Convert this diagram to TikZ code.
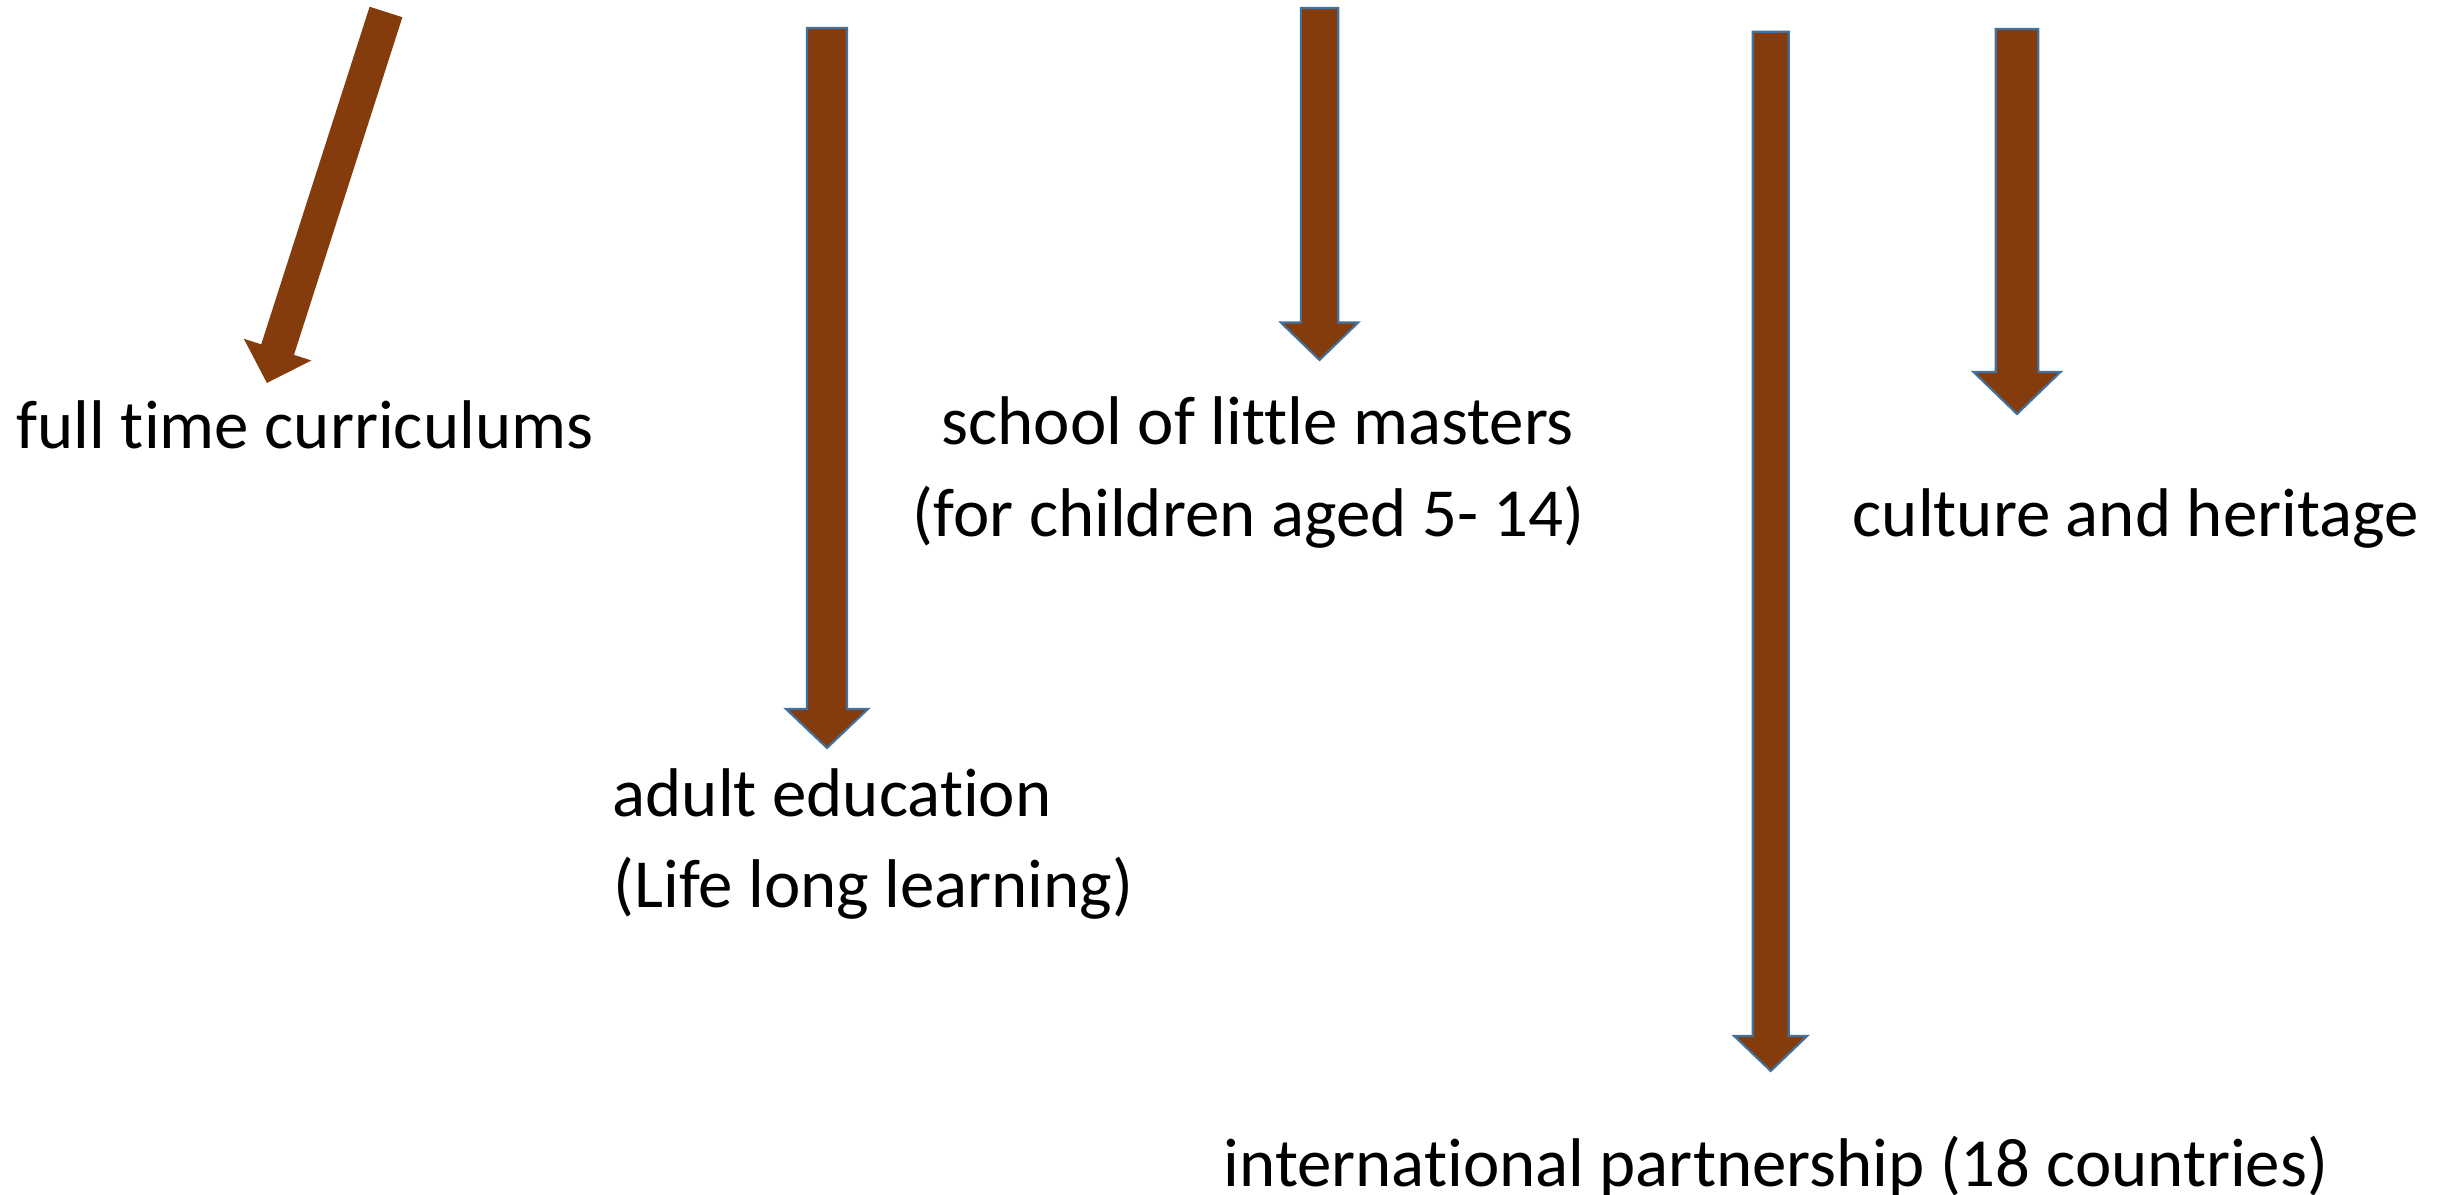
\documentclass[tikz,border=0pt]{standalone}
\usepackage{fontspec}
\setmainfont{Carlito}[Ligatures={NoCommon}]
\usepackage{xcolor}
\usepackage{tikz}
\usetikzlibrary{positioning}
\definecolor{abrown}{HTML}{843C0C}
\definecolor{ablue}{HTML}{41719C}

\begin{document}
\begin{tikzpicture}[x=1cm, y=1cm,
  blk/.style={fill=abrown, draw=ablue, line width=0.6pt, line join=miter},
  lbl/.style={font=\fontsize{19.6}{26}\selectfont, inner sep=0pt, anchor=base west}]
\useasboundingbox (0,0) rectangle (24.55,11.94);
% slanted arrow, no outline
\begin{scope}[shift={(3.86,11.82)}, rotate=252.2]
\fill[abrown] (0,0.172) -- (3.546,0.172) -- (3.546,0.355) -- (3.896,0)
  -- (3.546,-0.355) -- (3.546,-0.172) -- (0,-0.172) -- cycle;
\end{scope}
% straight arrows
\draw[blk] (8.07,11.66) -- (8.47,11.66) -- (8.47,4.85) -- (8.68,4.85)
  -- (8.27,4.46) -- (7.86,4.85) -- (8.07,4.85) -- cycle;
\draw[blk] (13.008,11.86) -- (13.382,11.86) -- (13.382,8.715) -- (13.582,8.715)
  -- (13.195,8.34) -- (12.808,8.715) -- (13.008,8.715) -- cycle;
\draw[blk] (17.527,11.623) -- (17.887,11.623) -- (17.887,1.58) -- (18.072,1.58)
  -- (17.707,1.23) -- (17.342,1.58) -- (17.527,1.58) -- cycle;
\draw[blk] (19.957,11.65) -- (20.383,11.65) -- (20.383,8.22) -- (20.605,8.22)
  -- (20.17,7.80) -- (19.735,8.22) -- (19.957,8.22) -- cycle;
% labels
\node[lbl] (fulltime) at (0.16,7.45) {full time curriculums};
\node[lbl] (school) at (9.41,7.49) {school of little masters};
\node[lbl] (children) at (9.12,6.57) {(for children aged 5- 14)};
\node[lbl] (culture) at (18.52,6.57) {culture and heritage};
\node[lbl] (adult) at (6.12,3.78) {adult education};
\node[lbl] (lifelong) at (6.13,2.87) {(Life long learning)};
\node[lbl] (intl) at (12.23,0.08) {international partnership (18 countries)};
\end{tikzpicture}
\end{document}
